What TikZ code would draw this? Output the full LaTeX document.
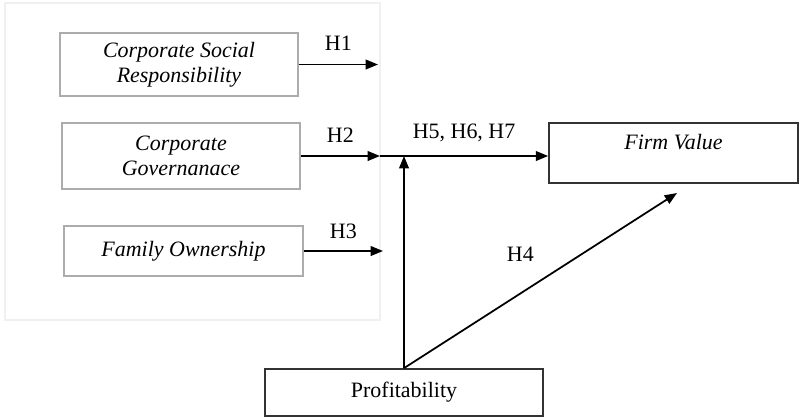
\documentclass[tikz,border=0pt]{standalone}
\usepackage{fontspec}
\setmainfont{Liberation Serif}
\usetikzlibrary{arrows.meta}

\begin{document}
\begin{tikzpicture} [x=0.02cm, y=-0.02cm,
 every node/.style = {font=\fontsize{12.5}{14.5}\selectfont, align=center},
 varbox/.style = {shape=rectangle, draw=gray!65, line width=0.8pt, font=\fontsize{12.5}{14.5}\selectfont\itshape},
 mainbox/.style = {shape=rectangle, draw=black!80, line width=1pt},
 arr/.style = {line width=1pt, -{Triangle[length=7pt, width=5.5pt]}}]
 \useasboundingbox (0,0) rectangle (800,417);
 % left panel
 \draw [gray!12, line width=0.6pt] (5,3) rectangle (380,320);

 \node (csr)[varbox, minimum width=4.76cm, minimum height=1.26cm] at (179,64.5) {Corporate Social\\Responsibility};
 \node (gov)[varbox, minimum width=4.76cm, minimum height=1.32cm] at (181,156) {Corporate\\Governanace};
 \node (fam)[varbox, minimum width=4.78cm, minimum height=1.0cm] at (183.5,251) {Family Ownership};
 \node (value)[mainbox, font=\fontsize{12.5}{14.5}\selectfont\itshape, minimum width=4.98cm, minimum height=1.2cm,
  text height=9pt, text depth=13pt] at (673.5,153) {Firm Value};
 \node (profit)[mainbox, minimum width=5.56cm, minimum height=0.94cm] at (404,392.5) {Profitability};

 \coordinate (h1end) at (378,64.5);
 \coordinate (j) at (380,156);
 \coordinate (h3end) at (383,251);
 \coordinate (h4end) at (677,193);

 \draw [arr] (csr) -- (h1end) node[midway, above=4pt] {H1};
 \draw [arr] (gov) -- (j) node[midway, above=4pt] {H2};
 \draw [arr] (fam) -- (h3end) node[midway, above=3pt] {H3};
 \draw [arr] (j) -- (j -| value.west) node[midway, above=4pt] {H5, H6, H7};
 \draw [arr] (profit.north) -- (profit.north |- j);
 \draw [arr] (profit.north) -- (h4end) node[midway, above left, yshift=7pt] {H4};
\end{tikzpicture}
\end{document}
